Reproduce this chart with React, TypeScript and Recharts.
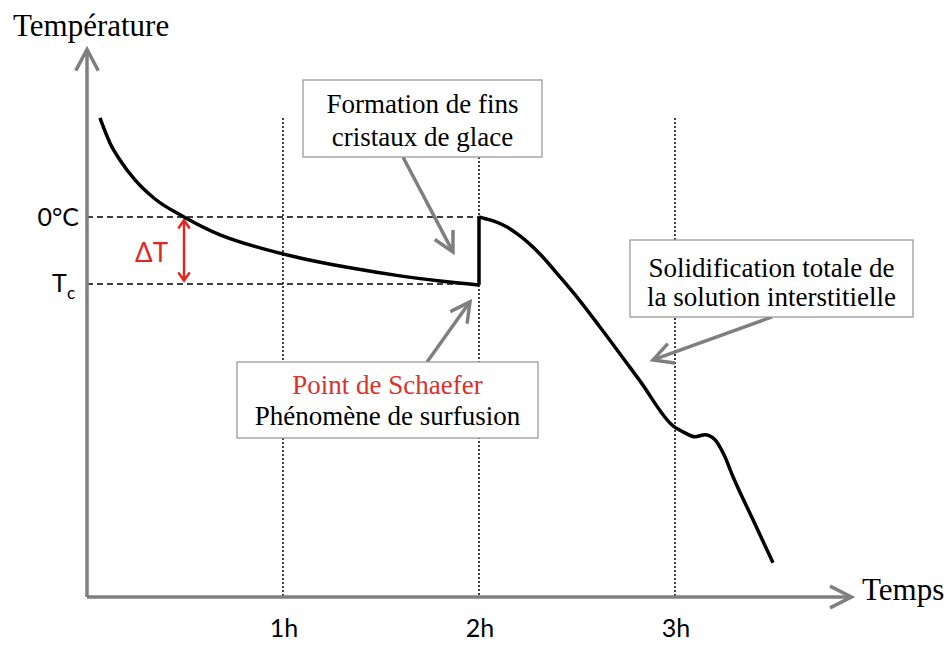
import { LineChart, Line, XAxis, YAxis, ReferenceLine } from "recharts";

// time in hours, temperature in arbitrary units (0 = 0°C, -4 = Tc)
const coolingCurve = [
  { t: 0.066, temp: 5.91 },
  { t: 0.117, temp: 4.42 },
  { t: 0.168, temp: 3.4 },
  { t: 0.245, temp: 2.21 },
  { t: 0.347, temp: 1.07 },
  { t: 0.495, temp: 0 },
  { t: 0.679, temp: -1.07 },
  { t: 0.883, temp: -1.85 },
  { t: 1.087, temp: -2.45 },
  { t: 1.342, temp: -3.04 },
  { t: 1.597, temp: -3.52 },
  { t: 1.801, temp: -3.82 },
  { t: 2.0, temp: -4.06 },
];

const jumpSegment = [
  { t: 2.0, temp: -4.06 },
  { t: 2.0, temp: 0 },
];

const freezingCurve = [
  { t: 2.0, temp: 0 },
  { t: 2.056, temp: -0.18 },
  { t: 2.133, temp: -0.54 },
  { t: 2.209, temp: -1.13 },
  { t: 2.311, temp: -2.21 },
  { t: 2.413, temp: -3.58 },
  { t: 2.515, temp: -5.01 },
  { t: 2.617, temp: -6.57 },
  { t: 2.821, temp: -9.79 },
  { t: 2.99, temp: -12.48 },
  { t: 3.051, temp: -12.9 },
  { t: 3.102, temp: -13.13 },
  { t: 3.153, temp: -13.01 },
  { t: 3.204, temp: -13.31 },
  { t: 3.25, temp: -14.21 },
  { t: 3.296, temp: -15.52 },
  { t: 3.398, temp: -18.09 },
  { t: 3.5, temp: -20.66 },
];

const hourTicks = [1, 2, 3];
const hourLabels = ["1h", "2h", "3h"];
const tempTicks = [0, -4];
const T_MIN = -22.7;
const T_MAX = 10;
const T_END = 3.9;

// dotted hour guides: [hour, top]
const hourGuides = [
  [1, 5.91],
  [2, 3.58],
  [3, 5.91],
];

// callout arrows: tail -> tip
const callouts = [
  { from: { x: 1.612, y: 3.58 }, to: { x: 1.867, y: -2.09 } },
  { from: { x: 1.735, y: -8.66 }, to: { x: 1.954, y: -5.07 } },
  { from: { x: 3.495, y: -5.97 }, to: { x: 2.888, y: -8.54 } },
];

const GREY = "#7f7f7f";
const RED = "#e3261f";
const serif = "'Liberation Serif', 'Times New Roman', serif";
const sans = "Lato, 'Open Sans', sans-serif";

function head(x1: number, y1: number, x2: number, y2: number, len: number, ang: number) {
  const d = Math.hypot(x1 - x2, y1 - y2) || 1;
  const ux = (x1 - x2) / d;
  const uy = (y1 - y2) / d;
  const a = (ang * Math.PI) / 180;
  const r = (s: number) => ({
    x: x2 + len * (ux * Math.cos(s * a) - uy * Math.sin(s * a)),
    y: y2 + len * (ux * Math.sin(s * a) + uy * Math.cos(s * a)),
  });
  const p = r(1);
  const q = r(-1);
  return `${p.x},${p.y} ${x2},${y2} ${q.x},${q.y}`;
}

function arrowShape(color: string, width: number, len: number, ang: number, both = false) {
  return (p: any) => {
    const { x1, y1, x2, y2 } = p;
    return (
      <g>
        <line x1={x1} y1={y1} x2={x2} y2={y2} stroke={color} strokeWidth={width} />
        <polyline points={head(x1, y1, x2, y2, len, ang)} fill="none" stroke={color} strokeWidth={width} />
        {both && (
          <polyline points={head(x2, y2, x1, y1, len, ang)} fill="none" stroke={color} strokeWidth={width} />
        )}
      </g>
    );
  };
}

function HourTick({ x, y, payload }: any) {
  const i = hourTicks.indexOf(payload.value);
  return (
    <text x={x + 1} y={y + 32} textAnchor="middle" fontFamily={sans} fontSize={25} fill="#000">
      {hourLabels[i]}
    </text>
  );
}

function TempTick({ x, y, payload }: any) {
  if (payload.value === 0) {
    return (
      <text x={x} y={y + 9} textAnchor="end" fontFamily={sans} fontSize={25} fill="#000">
        0°C
      </text>
    );
  }
  return (
    <text x={x - 4} y={y + 8} textAnchor="end" fontFamily={sans} fontSize={25} fill="#000">
      T<tspan dy={7} fontSize={17}>c</tspan>
    </text>
  );
}

function Box({ x, y, w, h, lines }: { x: number; y: number; w: number; h: number; lines: { text: string; y: number; color?: string }[] }) {
  return (
    <g>
      <rect x={x} y={y} width={w} height={h} fill="#fff" stroke="#9a9a9a" strokeWidth={1.3} />
      {lines.map((l) => (
        <text key={l.text} x={x + w / 2} y={l.y} textAnchor="middle" fontFamily={serif} fontSize={27} fill={l.color || "#000"}>
          {l.text}
        </text>
      ))}
    </g>
  );
}

export default function App() {
  return (
    <div style={{ position: "absolute", left: 0, top: 0, width: 951, height: 645, background: "#fff" }}>
      <LineChart width={951} height={645} margin={{ top: 49.5, right: 99.6, bottom: 0, left: 0 }}>
        <XAxis
          dataKey="t"
          type="number"
          domain={[0, T_END]}
          allowDataOverflow
          ticks={hourTicks}
          tick={<HourTick />}
          tickLine={false}
          axisLine={false}
          height={48}
        />
        <YAxis
          type="number"
          domain={[T_MIN, T_MAX]}
          allowDataOverflow
          ticks={tempTicks}
          tick={<TempTick />}
          tickLine={false}
          axisLine={false}
          width={87}
        />

        {hourGuides.map(([h, top]) => (
          <ReferenceLine
            key={h}
            segment={[{ x: h, y: top }, { x: h, y: T_MIN }]}
            stroke="#000"
            strokeWidth={1.5}
            strokeDasharray="2 2"
            ifOverflow="visible"
          />
        ))}
        {tempTicks.map((v) => (
          <ReferenceLine
            key={v}
            segment={[{ x: 0, y: v }, { x: 2, y: v }]}
            stroke="#000"
            strokeWidth={1.5}
            strokeDasharray="6 4"
            ifOverflow="visible"
          />
        ))}

        <ReferenceLine
          segment={[{ x: 0, y: T_MIN }, { x: 0, y: T_MAX }]}
          ifOverflow="visible"
          shape={arrowShape(GREY, 3.5, 24, 28)}
        />
        <ReferenceLine
          segment={[{ x: 0, y: T_MIN }, { x: T_END, y: T_MIN }]}
          ifOverflow="visible"
          shape={arrowShape(GREY, 3.5, 24, 27)}
        />
        <ReferenceLine
          segment={[{ x: 0.495, y: -3.8 }, { x: 0.495, y: -0.2 }]}
          ifOverflow="visible"
          shape={arrowShape(RED, 2.5, 10, 35, true)}
        />
        {callouts.map((c, i) => (
          <ReferenceLine key={i} segment={[c.from, c.to]} ifOverflow="visible" shape={arrowShape(GREY, 3.5, 22, 28)} />
        ))}

        <Line data={coolingCurve} dataKey="temp" type="monotone" stroke="#000" strokeWidth={3.5} dot={false} isAnimationActive={false} />
        <Line data={jumpSegment} dataKey="temp" type="linear" stroke="#000" strokeWidth={3.5} dot={false} isAnimationActive={false} />
        <Line data={freezingCurve} dataKey="temp" type="monotone" stroke="#000" strokeWidth={3.5} dot={false} isAnimationActive={false} />
      </LineChart>

      <svg width={951} height={645} style={{ position: "absolute", left: 0, top: 0, pointerEvents: "none" }}>
        <text x={13} y={36} fontFamily={serif} fontSize={31} fill="#000">Température</text>
        <text x={862} y={600} fontFamily={serif} fontSize={31} fill="#000">Temps</text>
        <text x={135} y={262} fontFamily={sans} fontSize={26} fill={RED}>ΔT</text>
        <Box
          x={303}
          y={80}
          w={239}
          h={77}
          lines={[
            { text: "Formation de fins", y: 113 },
            { text: "cristaux de glace", y: 146 },
          ]}
        />
        <Box
          x={237}
          y={362}
          w={301}
          h={76}
          lines={[
            { text: "Point de Schaefer", y: 394, color: "#d9322b" },
            { text: "Phénomène de surfusion", y: 425 },
          ]}
        />
        <Box
          x={630}
          y={240}
          w={283}
          h={77}
          lines={[
            { text: "Solidification totale de", y: 277 },
            { text: "la solution interstitielle", y: 306 },
          ]}
        />
      </svg>
    </div>
  );
}
